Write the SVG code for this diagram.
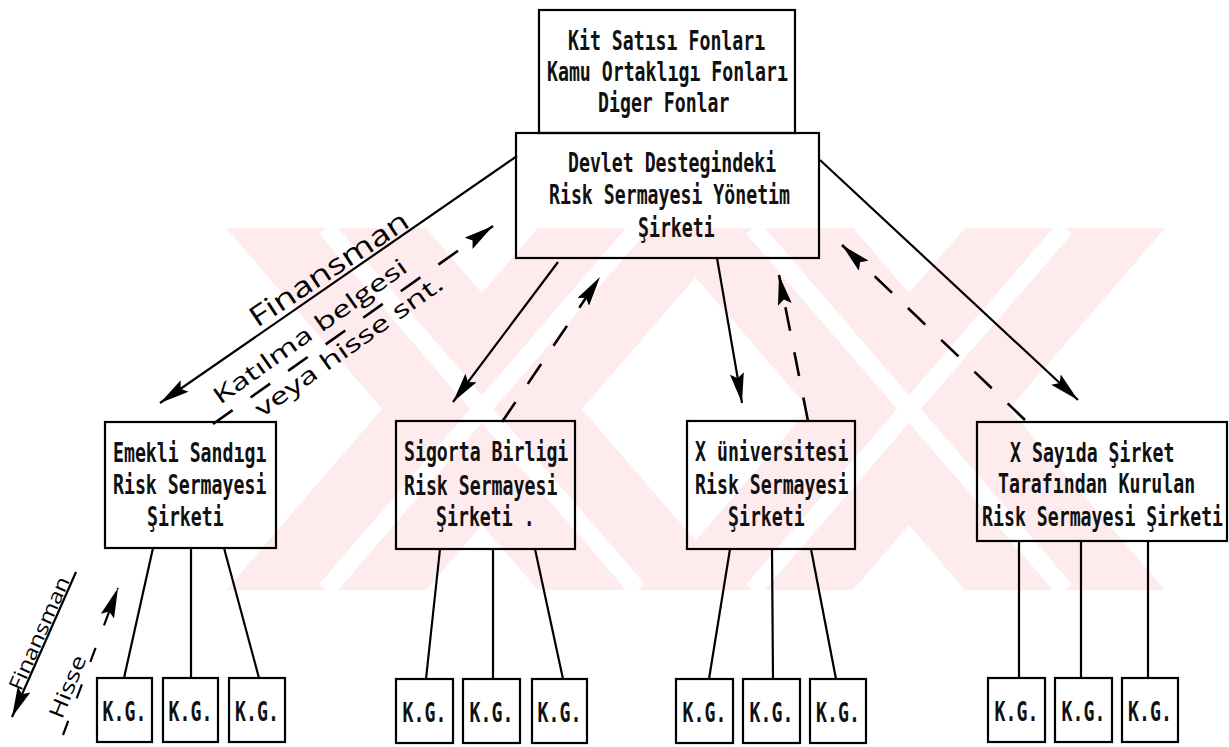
<svg xmlns="http://www.w3.org/2000/svg" width="1229" height="747" viewBox="0 0 1229 747">
  <style>
    .wm { fill: #fdebee; stroke: none; }
    .wms { stroke: #ffffff; stroke-width: 18; fill: none; }
    .box { fill: none; stroke: #000; stroke-width: 2.2; }
    .t { font-family: "DejaVu Sans Mono", "Liberation Mono", monospace; font-size: 26px; font-weight: bold; fill: #111; }
    .kg { text-anchor: middle; }
    .hw { font-family: "Open Sans", "DejaVu Sans", sans-serif; fill: #000; }
    .ln { stroke: #000; stroke-width: 2.2; fill: none; }
    .dl { stroke: #000; stroke-width: 2.6; fill: none; stroke-dasharray: 24 22; }
  </style>
  <defs>
    <marker id="ah" viewBox="0 0 30 14" refX="30" refY="7" markerWidth="30" markerHeight="14" markerUnits="userSpaceOnUse" orient="auto">
      <path d="M0,0 L30,7 L0,14 L5,7 z" fill="#000"/>
    </marker>
  </defs>

  <rect width="1229" height="747" fill="#fff"/>

  <!-- background mark: two large striped X shapes -->
  <g id="backdrop">
    <polygon class="wm" points="226,228 426,228 738,590 538,590"/>
    <polygon class="wm" points="538,228 738,228 426,590 226,590"/>
    <polygon class="wm" points="653,228 853,228 1165,590 965,590"/>
    <polygon class="wm" points="965,228 1165,228 853,590 653,590"/>
    <line class="wms" x1="326" y1="228" x2="638" y2="590"/>
    <line class="wms" x1="638" y1="228" x2="326" y2="590"/>
    <line class="wms" x1="753" y1="228" x2="1065" y2="590"/>
    <line class="wms" x1="1065" y1="228" x2="753" y2="590"/>
  </g>

  <!-- connectors -->
  <g id="connectors">
    <!-- management company to the four funds (financing, solid) -->
    <line class="ln" x1="517" y1="156" x2="160" y2="403" marker-end="url(#ah)"/>
    <line class="ln" x1="558" y1="262" x2="453" y2="402" marker-end="url(#ah)"/>
    <line class="ln" x1="717" y1="258" x2="742" y2="403" marker-end="url(#ah)"/>
    <line class="ln" x1="820" y1="160" x2="1078" y2="400" marker-end="url(#ah)"/>
    <!-- participation certificates back up (dashed) -->
    <line class="dl" x1="213" y1="424" x2="493" y2="226" stroke-dasharray="20 34" marker-end="url(#ah)"/>
    <line class="dl" x1="502" y1="422" x2="600" y2="277" marker-end="url(#ah)"/>
    <line class="dl" x1="808" y1="421" x2="779" y2="275" marker-end="url(#ah)"/>
    <line class="dl" x1="1025" y1="420" x2="842" y2="245" marker-end="url(#ah)"/>
    <!-- fund to portfolio companies -->
    <line class="ln" x1="153" y1="548" x2="124" y2="678"/>
    <line class="ln" x1="191" y1="548" x2="191" y2="678"/>
    <line class="ln" x1="224" y1="548" x2="259" y2="678"/>
    <line class="ln" x1="440" y1="549" x2="426" y2="679"/>
    <line class="ln" x1="493" y1="549" x2="493" y2="679"/>
    <line class="ln" x1="535" y1="549" x2="563" y2="679"/>
    <line class="ln" x1="730" y1="549" x2="709" y2="679"/>
    <line class="ln" x1="772" y1="549" x2="773" y2="679"/>
    <line class="ln" x1="811" y1="549" x2="836" y2="679"/>
    <line class="ln" x1="1019" y1="541" x2="1019" y2="678"/>
    <line class="ln" x1="1081" y1="541" x2="1081" y2="678"/>
    <line class="ln" x1="1148" y1="541" x2="1148" y2="678"/>
    <!-- legend arrows, bottom left -->
    <line class="ln" x1="76" y1="572" x2="12" y2="717" marker-end="url(#ah)"/>
    <line class="ln" x1="63" y1="735" x2="118" y2="588" stroke-dasharray="15 24" stroke-width="2.6" marker-end="url(#ah)"/>
  </g>

  <!-- handwritten labels -->
  <g id="labels">
    <text class="hw" font-size="28" transform="translate(257,328) rotate(-33.5)" textLength="185" lengthAdjust="spacingAndGlyphs">Finansman</text>
    <text class="hw" font-size="23" transform="translate(220,405) rotate(-35.4)" textLength="232" lengthAdjust="spacingAndGlyphs">Katılma belgesi</text>
    <text class="hw" font-size="23" transform="translate(262,418) rotate(-35.5)" textLength="225" lengthAdjust="spacingAndGlyphs">veya hisse snt.</text>
    <text class="hw" font-size="20" transform="translate(21,692) rotate(-66.2)" textLength="122" lengthAdjust="spacingAndGlyphs">Finansman</text>
    <text class="hw" font-size="21" transform="translate(62,720) rotate(-68)" textLength="66" lengthAdjust="spacingAndGlyphs">Hisse</text>
  </g>

  <!-- funding sources -->
  <g id="node-fonlar">
    <rect class="box" x="539" y="10" width="256" height="123"/>
    <g transform="scale(0.7 1)">
      <text class="t" x="811.4" y="50">Kit Satısı Fonları</text>
      <text class="t" x="781.4" y="81">Kamu Ortaklıgı Fonları</text>
      <text class="t" x="854.3" y="112">Diger Fonlar</text>
    </g>
  </g>

  <!-- state-backed management company -->
  <g id="node-devlet">
    <rect class="box" x="516" y="133" width="303" height="125"/>
    <g transform="scale(0.7 1)">
      <text class="t" x="811.4" y="172">Devlet Destegindeki</text>
      <text class="t" x="784.3" y="204">Risk Sermayesi Yönetim</text>
      <text class="t" x="911.4" y="237">Şirketi</text>
    </g>
  </g>

  <g id="node-emekli">
    <rect class="box" x="105" y="422" width="171" height="126"/>
    <g transform="scale(0.7 1)">
      <text class="t" x="161.4" y="462">Emekli Sandıgı</text>
      <text class="t" x="161.4" y="494">Risk Sermayesi</text>
      <text class="t" x="210" y="526">Şirketi</text>
    </g>
  </g>

  <g id="node-sigorta">
    <rect class="box" x="396" y="421" width="179" height="128"/>
    <g transform="scale(0.7 1)">
      <text class="t" x="577.1" y="461">Sigorta Birligi</text>
      <text class="t" x="577.1" y="495">Risk Sermayesi</text>
      <text class="t" x="622.9" y="526">Şirketi .</text>
    </g>
  </g>

  <g id="node-universite">
    <rect class="box" x="687" y="421" width="168" height="128"/>
    <g transform="scale(0.7 1)">
      <text class="t" x="992.9" y="461">X üniversitesi</text>
      <text class="t" x="992.9" y="494">Risk Sermayesi</text>
      <text class="t" x="1040" y="526">Şirketi</text>
    </g>
  </g>

  <g id="node-sayida">
    <rect class="box" x="977" y="422" width="250" height="119"/>
    <g transform="scale(0.7 1)">
      <text class="t" x="1442.9" y="462">X Sayıda Şirket</text>
      <text class="t" x="1425.7" y="493">Tarafından Kurulan</text>
      <text class="t" x="1402.9" y="526">Risk Sermayesi Şirketi</text>
    </g>
  </g>

  <!-- portfolio companies (K.G.) -->
  <g id="kg-emekli">
    <rect class="box" x="97" y="678" width="55" height="64"/>
    <rect class="box" x="163" y="678" width="55" height="64"/>
    <rect class="box" x="229" y="678" width="56" height="64"/>
    <g transform="scale(0.7 1)">
      <text class="t kg" x="177.9" y="721">K.G.</text>
      <text class="t kg" x="272.1" y="721">K.G.</text>
      <text class="t kg" x="367.1" y="721">K.G.</text>
    </g>
  </g>
  <g id="kg-sigorta">
    <rect class="box" x="396" y="679" width="57" height="64"/>
    <rect class="box" x="463" y="679" width="57" height="64"/>
    <rect class="box" x="532" y="679" width="55" height="64"/>
    <g transform="scale(0.7 1)">
      <text class="t kg" x="606.4" y="722">K.G.</text>
      <text class="t kg" x="702.1" y="722">K.G.</text>
      <text class="t kg" x="799.3" y="722">K.G.</text>
    </g>
  </g>
  <g id="kg-universite">
    <rect class="box" x="676" y="679" width="57" height="64"/>
    <rect class="box" x="743" y="679" width="57" height="64"/>
    <rect class="box" x="810" y="679" width="56" height="64"/>
    <g transform="scale(0.7 1)">
      <text class="t kg" x="1006.4" y="722">K.G.</text>
      <text class="t kg" x="1102.1" y="722">K.G.</text>
      <text class="t kg" x="1197.1" y="722">K.G.</text>
    </g>
  </g>
  <g id="kg-sayida">
    <rect class="box" x="988" y="678" width="57" height="64"/>
    <rect class="box" x="1055" y="678" width="57" height="64"/>
    <rect class="box" x="1122" y="678" width="56" height="64"/>
    <g transform="scale(0.7 1)">
      <text class="t kg" x="1452.1" y="721">K.G.</text>
      <text class="t kg" x="1547.9" y="721">K.G.</text>
      <text class="t kg" x="1642.9" y="721">K.G.</text>
    </g>
  </g>
</svg>
